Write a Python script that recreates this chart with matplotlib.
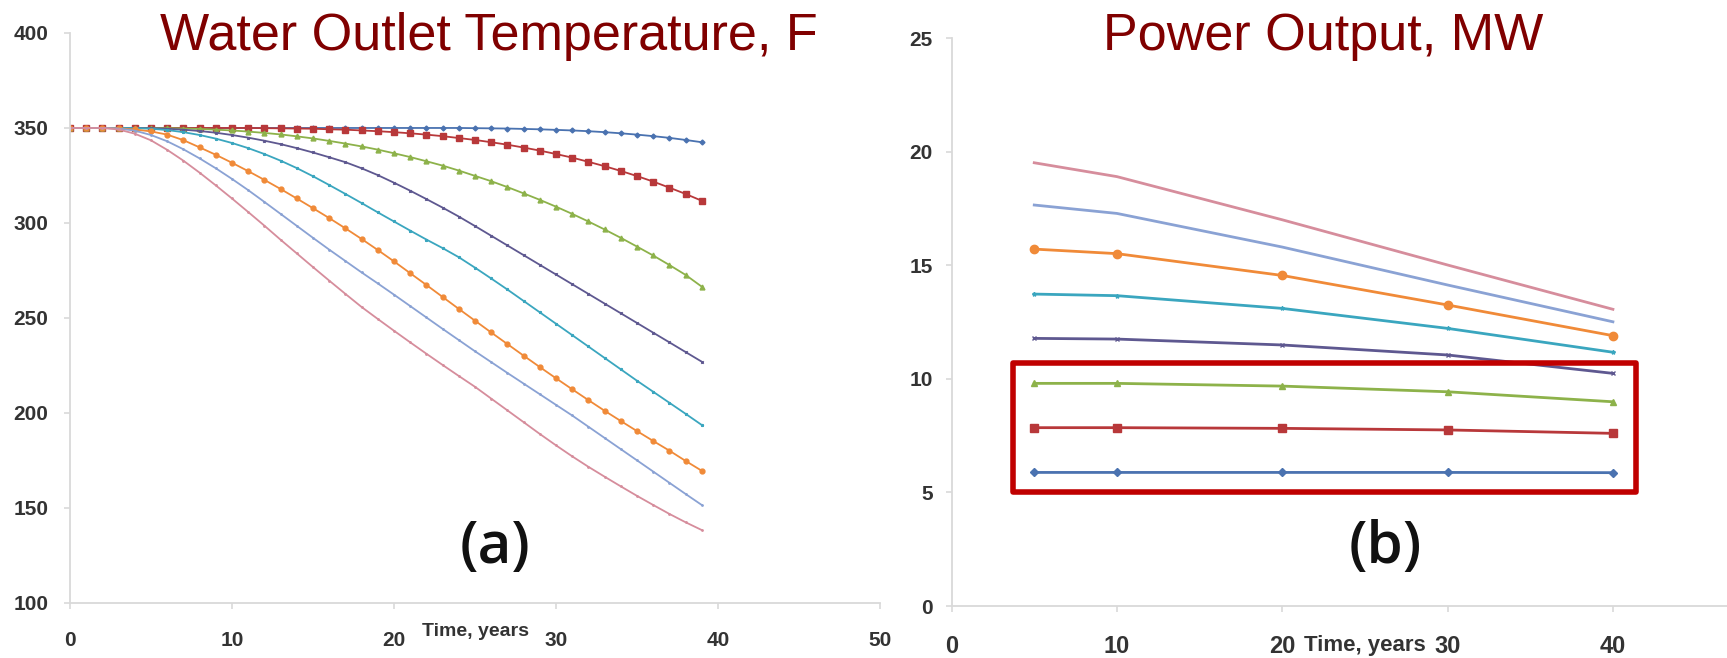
import numpy as np
import matplotlib.pyplot as plt
from matplotlib.patches import Rectangle

# (a) water outlet temperature, F  - one point per year
years = np.arange(40)
temp_blue = [350, 350, 350, 350, 350, 350, 350, 350, 350, 350,
             350, 350, 350, 350, 350, 350, 350, 350, 350, 350,
             350, 350, 350, 350, 350, 349.9, 349.8, 349.7, 349.5, 349.3,
             349.0, 348.7, 348.3, 347.8, 347.2, 346.5, 345.7, 344.8, 343.7, 342.5]
temp_red = [350, 350, 350, 350, 350, 350, 350, 350, 350, 350,
            350, 350, 349.9, 349.8, 349.7, 349.6, 349.3, 349.1, 348.7, 348.3,
            347.8, 347.2, 346.5, 345.7, 344.7, 343.7, 342.5, 341.2, 339.7, 338.1,
            336.3, 334.4, 332.2, 329.9, 327.4, 324.7, 321.8, 318.6, 315.3, 311.7]
temp_green = [350, 350, 350, 350, 350, 350, 349.9, 349.7, 349.5, 349.1,
              348.7, 348.1, 347.4, 346.6, 345.6, 344.5, 343.2, 341.8, 340.3, 338.6,
              336.7, 334.7, 332.5, 330.2, 327.6, 324.8, 322.0, 318.9, 315.6, 312.2,
              308.6, 304.8, 300.8, 296.6, 292.2, 287.6, 282.9, 277.9, 272.7, 266.5]
temp_purple = [350, 350, 350, 350, 350, 349.9, 349.6, 349.1, 348.4, 347.5,
               346.3, 344.9, 343.3, 341.5, 339.4, 337.1, 334.6, 332.0, 328.8, 325.2,
               321.2, 317.0, 312.6, 308.1, 303.4, 298.4, 293.3, 288.2, 283.1, 278.0,
               272.9, 267.8, 262.7, 257.6, 252.5, 247.4, 242.3, 237.2, 232.1, 227.0]
temp_teal = [350, 350, 350, 350, 349.9, 349.6, 348.9, 347.8, 346.3, 344.4,
             342.1, 339.4, 336.3, 332.8, 328.9, 324.6, 320.0, 315.3, 310.5, 305.6,
             300.8, 296.0, 291.3, 286.8, 282.0, 276.5, 270.8, 265.0, 259.0, 253.0,
             247.0, 241.0, 235.0, 229.0, 223.0, 217.0, 211.2, 205.4, 199.6, 193.7]
temp_orange = [350, 350, 350, 349.8, 349.2, 348.2, 346.5, 343.6, 339.8, 335.9,
               331.7, 327.3, 322.7, 317.9, 312.9, 307.8, 302.6, 297.2, 291.6, 285.8,
               279.8, 273.6, 267.4, 261.1, 254.8, 248.6, 242.4, 236.3, 230.2, 224.2,
               218.3, 212.5, 206.8, 201.2, 195.8, 190.5, 185.3, 180.2, 174.8, 169.6]
temp_ltblue = [350, 350, 350, 349.7, 348.6, 346.3, 343.0, 338.8, 334.0, 328.8,
               323.2, 317.3, 311.1, 304.8, 298.5, 292.2, 286.0, 280.0, 274.0, 268.2,
               262.3, 256.3, 250.3, 244.3, 238.4, 232.5, 226.8, 221.1, 215.5, 209.9,
               204.3, 198.7, 192.8, 186.9, 181.0, 175.1, 169.2, 163.3, 157.4, 151.6]
temp_pink = [350, 350, 350, 349.2, 347.0, 343.5, 338.5, 332.8, 326.5, 319.8,
             312.9, 305.8, 298.6, 291.2, 284.0, 276.8, 269.7, 262.7, 255.8, 249.5,
             243.3, 237.2, 231.2, 225.3, 219.5, 213.8, 207.6, 201.4, 195.2, 189.0,
             183.0, 177.2, 171.7, 166.5, 161.4, 156.4, 151.6, 146.9, 142.5, 138.4]

# (b) power output, MW
power_years = [5, 10, 20, 30, 40]
power_blue = [5.88, 5.88, 5.88, 5.88, 5.87]
power_red = [7.85, 7.85, 7.82, 7.75, 7.60]
power_green = [9.80, 9.80, 9.68, 9.43, 8.99]
power_purple = [11.78, 11.75, 11.49, 11.05, 10.24]
power_teal = [13.73, 13.66, 13.10, 12.22, 11.17]
power_orange = [15.71, 15.51, 14.55, 13.25, 11.90]
power_ltblue = [17.65, 17.28, 15.80, 14.13, 12.51]
power_pink = [19.51, 18.90, 17.00, 15.01, 13.06]

temp_series = [temp_blue, temp_red, temp_green, temp_purple,
               temp_teal, temp_orange, temp_ltblue, temp_pink]
power_series = [power_blue, power_red, power_green, power_purple,
                power_teal, power_orange, power_ltblue, power_pink]

colors = ['#4a72b0', '#b8383a', '#8db24a', '#5e5890',
          '#3aa6bf', '#f08a38', '#8aa2d4', '#d68d9c']
markers = ['D', 's', '^', 'x', '*', 'o', '.', '.']
msize_a = [2.5, 4.5, 3.5, 1.8, 2.0, 3.5, 2.0, 2.0]
msize_b = [4, 6, 4.5, 2.5, 3.0, 6, 0, 0]

# highlight box on panel (b), data units: x0, x1, y0, y1
box_b = (3.7, 41.4, 5.0, 10.7)

label_font = 'Liberation Sans'
tick_col = '#d9d9d9'
text_col = '#333333'

fig = plt.figure(figsize=(17.27, 6.58), dpi=100)
ax1 = fig.add_axes([0.0405, 0.0836, 0.4690, 0.8663])
ax2 = fig.add_axes([0.5510, 0.0790, 0.4490, 0.8632])

for vals, c, m, ms in zip(temp_series, colors, markers, msize_a):
    ax1.plot(years, vals, color=c, lw=1.3, marker=m, ms=ms, mec=c, mfc=c)

for vals, c, m, ms in zip(power_series, colors, markers, msize_b):
    ax2.plot(power_years, vals, color=c, lw=2.0, marker=m if ms else None,
             ms=ms, mec=c, mfc=c)

ax1.set_xlim(0, 50)
ax1.set_ylim(100, 400)
ax1.set_xticks([0, 10, 20, 30, 40, 50])
ax1.set_yticks([100, 150, 200, 250, 300, 350, 400])

ax2.set_xlim(0, 46.9)
ax2.set_ylim(0, 25)
ax2.set_xticks([0, 10, 20, 30, 40])
ax2.set_yticks([0, 5, 10, 15, 20, 25])

for ax in (ax1, ax2):
    for s in ['top', 'right']:
        ax.spines[s].set_visible(False)
    for s in ['left', 'bottom']:
        ax.spines[s].set_color(tick_col)
        ax.spines[s].set_linewidth(1.3)
    ax.tick_params(color=tick_col, length=4, width=1.2, labelcolor=text_col)
    ax.patch.set_alpha(0)

ax1.tick_params(axis='x', pad=16, labelsize=15)
ax1.tick_params(axis='y', pad=11.5, labelsize=15)
ax2.tick_params(axis='x', pad=17, labelsize=17)
ax2.tick_params(axis='y', pad=9.5, labelsize=15)
for lab in ax1.get_xticklabels() + ax1.get_yticklabels() + \
        ax2.get_xticklabels() + ax2.get_yticklabels():
    lab.set_fontfamily(label_font)
    lab.set_fontweight('bold')

x0, x1, y0, y1 = box_b
ax2.add_patch(Rectangle((x0, y0), x1 - x0, y1 - y0, fill=False,
                        edgecolor='#c00000', lw=4, joinstyle='round',
                        clip_on=False, zorder=5))

# titles and labels
title_y = 1 - 50 / 658
fig.text(0.2832, title_y, 'Water Outlet Temperature, F', ha='center',
         va='baseline', fontsize=37.5, color='#800000', family=label_font)
fig.text(0.7663, title_y, 'Power Output, MW', ha='center',
         va='baseline', fontsize=37.5, color='#800000', family=label_font)

fig.text(495 / 1727, 1 - 548 / 658, '(a)', ha='center', va='center',
         fontsize=42, fontweight='semibold', color='#111111', family='Open Sans')
fig.text(1385 / 1727, 1 - 548 / 658, '(b)', ha='center', va='center',
         fontsize=42, fontweight='semibold', color='#111111', family='Open Sans')

fig.text(476 / 1727, 1 - 632 / 658, 'Time, years', ha='center', va='center',
         fontsize=14, fontweight='bold', color=text_col, family=label_font)
fig.text(1365 / 1727, 1 - 645 / 658, 'Time, years', ha='center', va='center',
         fontsize=16, fontweight='bold', color=text_col, family=label_font)

fig.savefig('out.png', dpi=100)
